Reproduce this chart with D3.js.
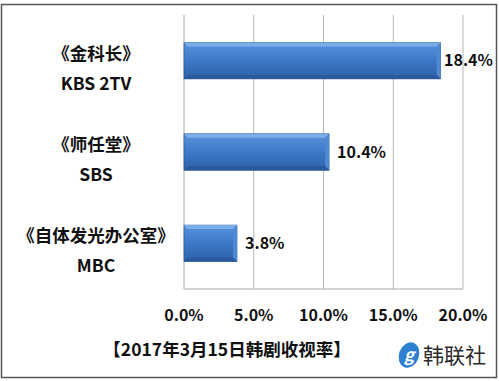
<!DOCTYPE html>
<html>
<head>
<meta charset="utf-8">
<script src="https://cdn.jsdelivr.net/npm/d3@7"></script>
<style>
  body { margin: 0; background: #fff; }
  text { font-family: "Noto Sans CJK SC", "Open Sans", sans-serif; }
</style>
</head>
<body>
<div id="chart"></div>
<script>
// data
const dramas = ["《金科长》", "《师任堂》", "《自体发光办公室》"];
const networks = ["KBS 2TV", "SBS", "MBC"];
const ratings = [18.4, 10.4, 3.8];
const ticks = [0, 5, 10, 15, 20];
const title = "【2017年3月15日韩剧收视率】";
const logoText = "韩联社";

const W = 499, H = 381;
const margin = { top: 15, right: 36, bottom: 92, left: 184 };
const width = W - margin.left - margin.right;
const height = H - margin.top - margin.bottom;

const svg = d3.select("#chart").append("svg")
  .attr("width", W).attr("height", H);

// outer frame
svg.append("rect")
  .attr("x", 1.5).attr("y", 4.5).attr("width", 495).attr("height", 373)
  .attr("fill", "#fff").attr("stroke", "#555").attr("stroke-width", 1.5);

const defs = svg.append("defs");
const grad = defs.append("linearGradient").attr("id", "barGrad")
  .attr("x1", 0).attr("y1", 0).attr("x2", 0).attr("y2", 1);
grad.append("stop").attr("offset", "0%").attr("stop-color", "#5b93da");
grad.append("stop").attr("offset", "45%").attr("stop-color", "#3d7bcb");
grad.append("stop").attr("offset", "100%").attr("stop-color", "#2d60a8");

const g = svg.append("g")
  .attr("transform", "translate(" + margin.left + "," + margin.top + ")");

const x = d3.scaleLinear().domain([0, 20]).range([0, width]);
const y = d3.scaleBand().domain(dramas).range([0, height]).paddingInner(0.6).paddingOuter(0.3);

// gridlines
g.selectAll(".grid")
  .data(ticks.slice(1))
  .join("line")
  .attr("x1", (d) => x(d)).attr("x2", (d) => x(d))
  .attr("y1", 0).attr("y2", height)
  .attr("stroke", "#b8b8b8").attr("stroke-width", 1);

// axis lines
g.append("line").attr("x1", 0).attr("x2", 0).attr("y1", 0).attr("y2", height)
  .attr("stroke", "#a8a8a8");
g.append("line").attr("x1", 0).attr("x2", x(20)).attr("y1", height).attr("y2", height)
  .attr("stroke", "#a8a8a8");

// bars
const bev = 4;
const bars = g.selectAll(".bar").data(dramas).join("g").attr("class", "bar");
bars.append("rect")
  .attr("x", 0).attr("y", (d) => y(d))
  .attr("width", (d, i) => x(ratings[i]))
  .attr("height", y.bandwidth())
  .attr("fill", "url(#barGrad)")
  .attr("stroke", "#2a5590").attr("stroke-width", 0.6);
// top bevel
bars.append("path")
  .attr("d", (d, i) => {
    const x1 = x(ratings[i]), y0 = y(d);
    return "M0," + y0 + "L" + x1 + "," + y0 + "L" + (x1 - bev) + "," + (y0 + bev) + "L" + bev + "," + (y0 + bev) + "Z";
  })
  .attr("fill", "#7fb0ea").attr("opacity", 0.9);
// right bevel
bars.append("path")
  .attr("d", (d, i) => {
    const x1 = x(ratings[i]), y0 = y(d), y1 = y0 + y.bandwidth();
    return "M" + x1 + "," + y0 + "L" + x1 + "," + y1 + "L" + (x1 - bev) + "," + (y1 - bev) + "L" + (x1 - bev) + "," + (y0 + bev) + "Z";
  })
  .attr("fill", "#4f89d2");
// bottom bevel
bars.append("path")
  .attr("d", (d, i) => {
    const x1 = x(ratings[i]), y1 = y(d) + y.bandwidth();
    return "M0," + y1 + "L" + x1 + "," + y1 + "L" + (x1 - bev) + "," + (y1 - bev) + "L" + bev + "," + (y1 - bev) + "Z";
  })
  .attr("fill", "#2a5a9c");

// value labels (pushed back so they stay inside the frame)
bars.append("text")
  .attr("x", (d, i) => Math.min(x(ratings[i]) + 8, width - 19))
  .attr("y", (d) => y(d) + y.bandwidth() / 2)
  .attr("dy", "0.36em")
  .attr("font-size", 16).attr("font-weight", "bold").attr("fill", "#111")
  .text((d, i) => ratings[i].toFixed(1) + "%");

// category labels (two lines)
const catX = 96 - margin.left;
bars.append("text")
  .attr("x", catX).attr("y", (d) => y(d) + y.bandwidth() / 2 - 1)
  .attr("text-anchor", "middle")
  .attr("font-size", 17.5).attr("font-weight", "bold").attr("fill", "#111")
  .text((d) => d);
bars.append("text")
  .attr("x", catX).attr("y", (d) => y(d) + y.bandwidth() / 2 + 29)
  .attr("text-anchor", "middle")
  .attr("font-size", 17.5).attr("font-weight", "bold").attr("fill", "#111")
  .text((d, i) => networks[i]);

// x tick labels
g.selectAll(".tick-label").data(ticks).join("text")
  .attr("x", (d) => x(d)).attr("y", height + 32)
  .attr("text-anchor", "middle")
  .attr("font-size", 16).attr("font-weight", "bold").attr("fill", "#111")
  .text((d) => d.toFixed(1) + "%");

// title
svg.append("text")
  .attr("x", 227).attr("y", 356)
  .attr("text-anchor", "middle")
  .attr("font-size", 17.5).attr("font-weight", "bold").attr("fill", "#111")
  .text(title);

// logo
const logo = svg.append("g").attr("transform", "translate(409,355)");
logo.append("ellipse").attr("rx", 10).attr("ry", 13)
  .attr("transform", "rotate(20)")
  .attr("fill", "#2f7fd0");
logo.append("text").attr("x", 0).attr("y", 6)
  .attr("text-anchor", "middle")
  .attr("font-size", 17).attr("font-style", "italic").attr("font-weight", "bold")
  .attr("fill", "#fff").text("g");
svg.append("text")
  .attr("x", 423).attr("y", 363)
  .attr("font-size", 21).attr("fill", "#2b2b2b")
  .text(logoText);
</script>
</body>
</html>
